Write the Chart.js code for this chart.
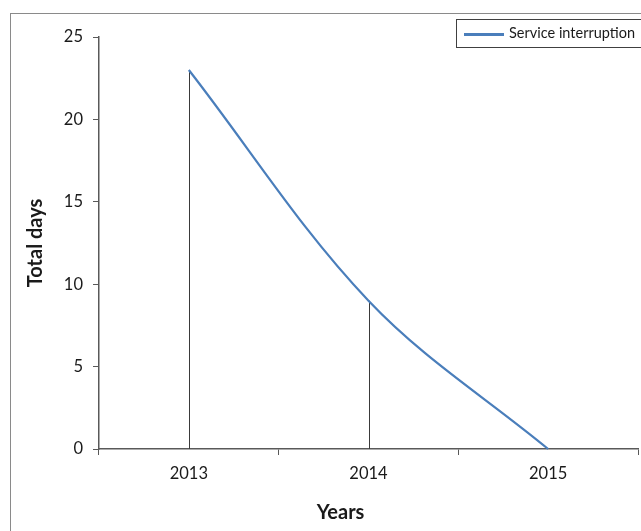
<!DOCTYPE html>
<html>
<head>
<meta charset="utf-8">
<script src="https://cdn.jsdelivr.net/npm/chart.js@4/dist/chart.umd.min.js"></script>
<style>
  html, body { margin: 0; padding: 0; background: #fff; overflow: hidden; }
  #wrap { position: relative; width: 641px; height: 531px; overflow: hidden; }
  #frame {
    position: absolute; left: 10px; top: 13px; width: 700px; height: 600px;
    border: 1px solid #8a8a8a; box-sizing: border-box;
  }
  #legend {
    position: absolute; left: 456px; top: 19px; width: 240px; height: 29px;
    border: 1px solid #404040; box-sizing: border-box;
    font: 14.5px Lato, "Open Sans", sans-serif; color: #1a1a1a;
  }
  #legend .swatch { position: absolute; left: 7px; top: 13px; width: 40px; height: 2.5px; }
  #legend .text { position: absolute; left: 52px; top: 4px; white-space: nowrap; }
  #xtitle {
    position: absolute; left: 0; top: 501px; width: 681px; text-align: center;
    font: bold 20px/20px Lato, "Open Sans", sans-serif; color: #1a1a1a;
  }
  canvas { position: absolute; left: 0; top: 0; }
</style>
</head>
<body>
<div id="wrap">
  <div id="frame"></div>
  <canvas id="chart" width="641" height="531"></canvas>
  <div id="legend"><span class="swatch"></span><span class="text"></span></div>
  <div id="xtitle"></div>
</div>
<script>
// values
const years = ['2013', '2014', '2015'];
const totalDays = [23, 9, 0];
const seriesName = 'Service interruption';
const yTicks = [0, 5, 10, 15, 20, 25];
const xTitle = 'Years';
const yTitle = 'Total days';

const lineColor = '#4a7ebb';
const axisColor = '#595959';
const textColor = '#1a1a1a';
const fontFamily = 'Lato, "Open Sans", sans-serif';

// Excel style drop lines from each point down to the x axis
const dropLines = {
  id: 'dropLines',
  beforeDatasetsDraw(chart) {
    const ctx = chart.ctx;
    const meta = chart.getDatasetMeta(0);
    const base = chart.scales.y.getPixelForValue(0);
    ctx.save();
    ctx.strokeStyle = '#3a3a3a';
    ctx.lineWidth = 1;
    meta.data.forEach((pt) => {
      const x = Math.round(pt.x) + 0.5;
      ctx.beginPath();
      ctx.moveTo(x, pt.y);
      ctx.lineTo(x, base);
      ctx.stroke();
    });
    ctx.restore();
  },
};

const chart = new Chart(document.getElementById('chart'), {
  type: 'line',
  data: {
    labels: years,
    datasets: [
      {
        label: seriesName,
        data: totalDays,
        borderColor: lineColor,
        borderWidth: 2.2,
        tension: 0.35,
        pointRadius: 0,
        fill: false,
        clip: false,
      },
    ],
  },
  options: {
    responsive: false,
    animation: false,
    layout: {
      padding: { top: 37, right: 3, left: 0, bottom: 0 },
    },
    plugins: {
      legend: { display: false },
      tooltip: { enabled: false },
    },
    scales: {
      x: {
        offset: true,
        afterFit(scale) {
          scale.height = 82;
        },
        grid: {
          offset: true,
          drawOnChartArea: false,
          tickLength: 6,
          color: axisColor,
          lineWidth: 1,
        },
        border: { display: true, color: axisColor, width: 1.5 },
        ticks: {
          padding: 9,
          color: textColor,
          font: { family: fontFamily, size: 16.5 },
          maxRotation: 0,
        },
      },
      y: {
        min: 0,
        max: 25,
        afterFit(scale) {
          scale.width = 99;
        },
        afterBuildTicks(scale) {
          scale.ticks = yTicks.map((v) => ({ value: v }));
        },
        grid: {
          drawOnChartArea: false,
          tickLength: 6,
          color: axisColor,
          lineWidth: 1,
        },
        border: { display: true, color: axisColor, width: 1.5 },
        ticks: {
          padding: 10,
          color: textColor,
          font: { family: fontFamily, size: 16.5 },
        },
        title: {
          display: true,
          text: yTitle,
          color: textColor,
          font: { family: fontFamily, size: 20, weight: 'bold' },
          padding: { top: 24, bottom: 0 },
        },
      },
    },
  },
  plugins: [dropLines],
});

const legend = document.getElementById('legend');
legend.querySelector('.swatch').style.background = chart.data.datasets[0].borderColor;
legend.querySelector('.text').textContent = chart.data.datasets[0].label;
document.getElementById('xtitle').textContent = xTitle;
</script>
</body>
</html>
